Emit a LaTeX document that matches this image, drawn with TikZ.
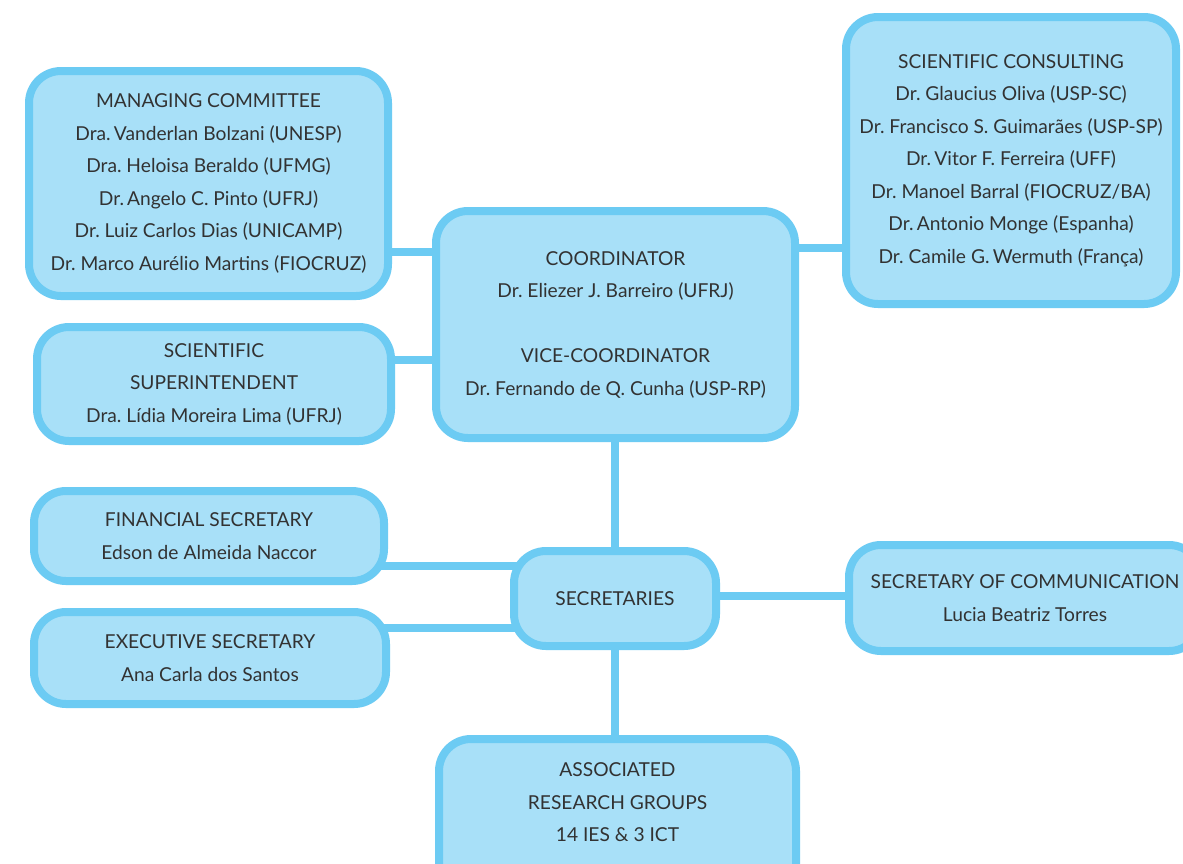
\documentclass[tikz,border=0pt]{standalone}
\usepackage{fontspec}
\setmainfont{Lato}
\frenchspacing
\usetikzlibrary{backgrounds}
\definecolor{boxfill}{RGB}{168,224,248}
\definecolor{boxline}{RGB}{108,203,243}
\definecolor{txt}{RGB}{50,50,50}
\begin{document}
\begin{tikzpicture}[x=1pt,y=-1pt,
  box/.style={draw=boxline, fill=boxfill, line width=8pt, rounded corners=32pt,
    outer sep=0pt, inner sep=0pt, align=center, text=txt,
    font=\fontsize{19.2}{32.5}\selectfont},
  label text/.style={inner sep=0pt, align=center, text=txt,
    font=\fontsize{19.2}{32.5}\selectfont},
  conn/.style={draw=boxline, line width=8pt}]
\useasboundingbox (0,0) rectangle (1183,863);
\clip (0,0) rectangle (1183,863);

\node[box, minimum width=359pt, minimum height=225pt] (mc) at (208.5,183.5)
  {MANAGING COMMITTEE\\ Dra.\,Vanderlan Bolzani (UNESP)\\ Dra. Heloisa Beraldo (UFMG)\\ Dr.\,Angelo C. Pinto (UFRJ)\\ Dr. Luiz Carlos Dias (UNICAMP)\\ Dr. Marco Aurélio Martins (FIOCRUZ)};
\node[box, minimum width=330pt, minimum height=287pt] (sc) at (1011,160.5)
  {SCIENTIFIC CONSULTING\\ Dr. Glaucius Oliva (USP-SC)\\ Dr. Francisco S. Guimarães (USP-SP)\\ Dr.\,Vitor F. Ferreira (UFF)\\ Dr. Manoel Barral (FIOCRUZ/BA)\\ Dr.\,Antonio Monge (Espanha)\\ Dr. Camile G.\,Wermuth (França)};
\node[box, minimum width=359pt, minimum height=227pt] (coord) at (615.5,324.5)
  {COORDINATOR\\ Dr. Eliezer J. Barreiro (UFRJ)\\[32.5pt] VICE-COORDINATOR\\ Dr. Fernando de Q. Cunha (USP-RP)};
\node[box, minimum width=354pt, minimum height=114pt] (ss) at (214,384)
  {SCIENTIFIC\\ SUPERINTENDENT\\ Dra. Lídia Moreira Lima (UFRJ)};
\node[box, minimum width=350pt, minimum height=90pt] (fs) at (209,536)
  {FINANCIAL SECRETARY\\ Edson de Almeida Naccor};
\node[box, minimum width=352pt, minimum height=92pt] (es) at (210,658)
  {EXECUTIVE SECRETARY\\ Ana Carla dos Santos};
\node[box, minimum width=202pt, minimum height=95pt] (sec) at (615,598.5)
  {SECRETARIES};
\node[box, minimum width=352pt, minimum height=106pt] (comm) at (1025,598)
  {SECRETARY OF COMMUNICATION\\ Lucia Beatriz Torres};
\node[box, minimum width=357pt, minimum height=170pt, anchor=north] (arg) at (617.5,739) {};
\node[label text] (argtext) at (617.5,802.5)
  {ASSOCIATED\\ RESEARCH GROUPS\\ 14 IES \& 3 ICT};

\begin{scope}[on background layer]
  \fill[white] (0,0) rectangle (1183,863);
  \draw[conn] (mc.center |- 0,252) -- (coord.center |- 0,252);
  \draw[conn] (ss.center |- 0,360) -- (coord.center |- 0,360);
  \draw[conn] (coord.center |- 0,248) -- (sc.center |- 0,248);
  \draw[conn] (coord.center -| 615,0) -- (sec.center -| 615,0);
  \draw[conn] (fs.center |- 0,566) -- (sec.center |- 0,566);
  \draw[conn] (es.center |- 0,628) -- (sec.center |- 0,628);
  \draw[conn] (sec.center |- 0,596) -- (comm.center |- 0,596);
  \draw[conn] (sec.center -| 615,0) -- (arg.center -| 615,0);
\end{scope}
\end{tikzpicture}
\end{document}
